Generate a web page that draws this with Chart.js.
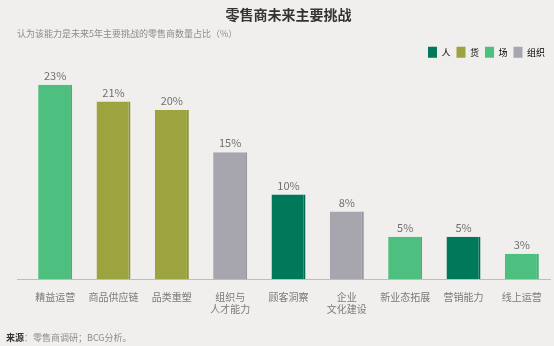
<!DOCTYPE html>
<html><head><meta charset="utf-8">
<script src="https://cdn.jsdelivr.net/npm/chart.js@4.4.1/dist/chart.umd.min.js"></script>
<style>
html,body{margin:0;padding:0;background:#F0EFED;}
#wrap{width:554px;height:346px;position:relative;}
</style></head>
<body><div id="wrap"><canvas id="c" width="554" height="346"></canvas></div>
<script>
const categories = [['精益运营'], ['商品供应链'], ['品类重塑'], ['组织与','人才能力'], ['顾客洞察'], ['企业','文化建设'], ['新业态拓展'], ['营销能力'], ['线上运营']];
const values = [23, 21, 20, 15, 10, 8, 5, 5, 3];
const groups = ['场', '货', '货', '组织', '人', '组织', '场', '人', '场'];
const legendNames = ['人', '货', '场', '组织'];
const groupFill = {'人': '#00785A', '货': '#9DA33F', '场': '#4DBF7F', '组织': '#A7A6AE'};
const groupEdge = {'人': '#006A4F', '货': '#8E9336', '场': '#44B073', '组织': '#98979F'};
const titleText = '零售商未来主要挑战';
const subtitleText = '认为该能力是未来5年主要挑战的零售商数量占比（%）';
const sourceBold = '来源';
const sourceRest = '：零售商调研；BCG分析。';

const FONT = '"Noto Sans CJK SC", "Noto Sans", sans-serif';

const extras = {
  id: 'extras',
  afterDraw(chart) {
    const ctx = chart.ctx;
    const area = chart.chartArea;
    ctx.save();
    // baseline
    ctx.strokeStyle = '#BEBDBB';
    ctx.lineWidth = 1;
    ctx.beginPath();
    ctx.moveTo(area.left - 9, Math.round(area.bottom) + 0.5);
    ctx.lineTo(area.right, Math.round(area.bottom) + 0.5);
    ctx.stroke();
    // value labels
    const meta = chart.getDatasetMeta(0);
    ctx.font = '11px ' + FONT;
    ctx.fillStyle = '#707070';
    ctx.textAlign = 'center';
    ctx.textBaseline = 'middle';
    meta.data.forEach((el, i) => {
      ctx.fillText(values[i] + '%', el.x, el.y - 9);
    });
    // subtitle
    ctx.textAlign = 'left';
    ctx.font = '9px ' + FONT;
    ctx.fillStyle = '#8C8C8C';
    ctx.fillText(subtitleText, 17, 34);
    // source
    ctx.font = 'bold 9px ' + FONT;
    ctx.fillStyle = '#333333';
    ctx.fillText(sourceBold, 6, 338);
    const w = ctx.measureText(sourceBold).width;
    ctx.font = '9px ' + FONT;
    ctx.fillStyle = '#8C8C8C';
    ctx.fillText(sourceRest, 6 + w, 338);
    ctx.restore();
  }
};

new Chart(document.getElementById('c'), {
  type: 'bar',
  data: {
    labels: categories,
    datasets: [{
      data: values,
      backgroundColor: groups.map(g => groupFill[g]),
      borderColor: groups.map(g => groupEdge[g]),
      borderWidth: {top: 0, left: 0, bottom: 0, right: 2},
      borderSkipped: false,
      categoryPercentage: 1,
      barPercentage: 0.583
    }]
  },
  options: {
    responsive: false,
    animation: false,
    devicePixelRatio: 1,
    layout: {padding: {left: 26, right: 3, top: 0, bottom: 19}},
    plugins: {
      title: {
        display: true, text: titleText, color: '#333333',
        font: {family: FONT, size: 14, weight: 'bold'},
        padding: {top: 6, bottom: 18}
      },
      legend: {
        display: true, position: 'top', align: 'end',
        labels: {
          boxWidth: 9, boxHeight: 11, padding: 6,
          color: '#9A9A9A', font: {family: FONT, size: 9},
          generateLabels: () => legendNames.map(n => ({
            text: n, fillStyle: groupFill[n], strokeStyle: groupFill[n], lineWidth: 0, hidden: false
          }))
        },
        onClick: null
      },
      tooltip: {enabled: false}
    },
    scales: {
      x: {
        grid: {display: false, drawTicks: false},
        border: {display: false},
        ticks: {color: '#7A7A7A', font: {family: FONT, size: 10}, padding: 12, maxRotation: 0, autoSkip: false}
      },
      y: {display: false, min: 0, max: 25}
    }
  },
  plugins: [extras]
});
</script></body></html>
